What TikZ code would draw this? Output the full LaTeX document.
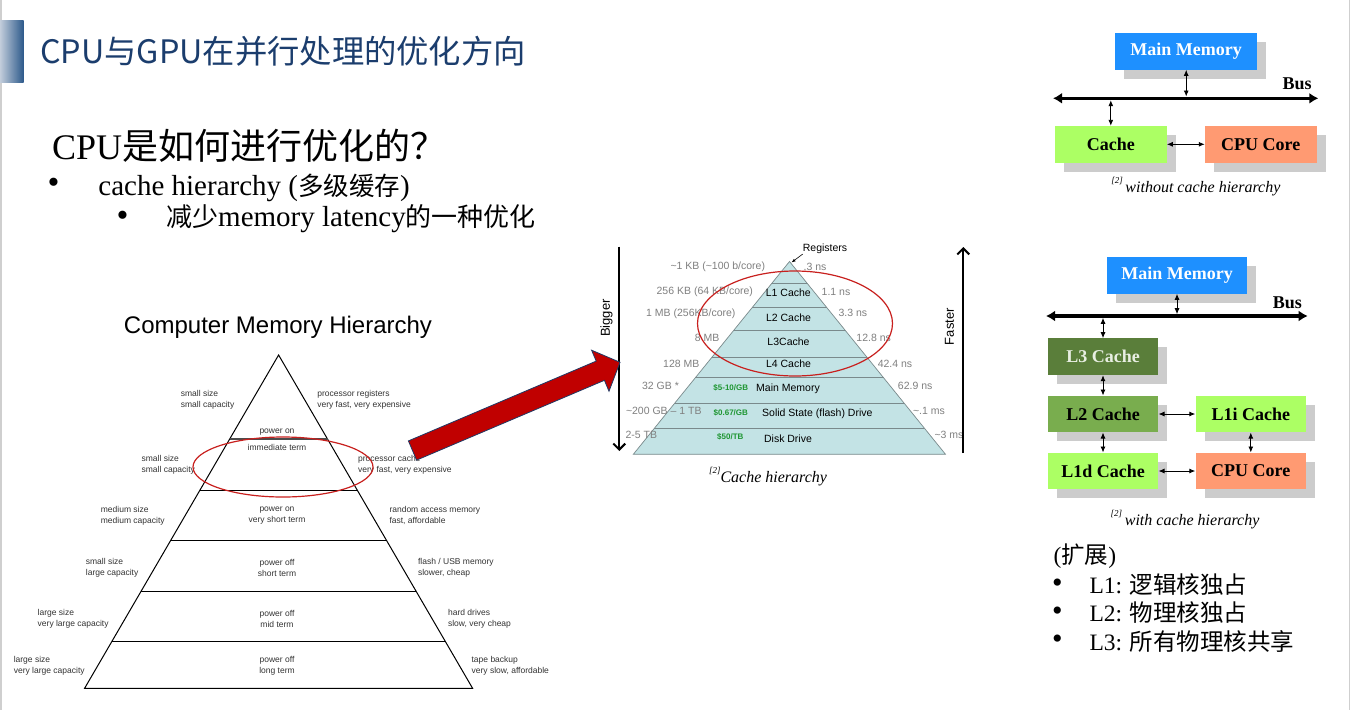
\documentclass[tikz,border=0pt]{standalone}
\usepackage{fontspec}
\setmainfont{Liberation Serif}
\setsansfont{Liberation Sans}
\newfontfamily\cjk{Noto Sans CJK SC}
\usetikzlibrary{arrows.meta,shadows,calc}
\definecolor{titleblue}{HTML}{1B3D6D}
\definecolor{barlight}{HTML}{C2CDDB}
\definecolor{bardark}{HTML}{2D5A8B}
\definecolor{mmblue}{HTML}{1E90FF}
\definecolor{lgreen}{HTML}{ACFF64}
\definecolor{salmon}{HTML}{FF9A72}
\definecolor{dgreen}{HTML}{5A7E3A}
\definecolor{mgreen}{HTML}{79AD4E}
\definecolor{shadowgray}{HTML}{CCCCCC}
\definecolor{pyrfill}{HTML}{C3E3E5}
\definecolor{pyrline}{HTML}{7A8A8C}
\definecolor{pricegreen}{HTML}{1E9632}
\definecolor{ellred}{HTML}{C8201E}
\definecolor{arrred}{HTML}{C00000}
\definecolor{arrblue}{HTML}{1F3864}
\definecolor{edgegray}{HTML}{CFCFCF}
\definecolor{greytext}{HTML}{808080}
\definecolor{lpyrtext}{HTML}{333333}
\definecolor{l3text}{HTML}{E8EEE2}
\begin{document}
\begin{tikzpicture}[x=1pt,y=-1pt,
  lbl/.style={font=\sffamily\fontsize{8.5}{11}\selectfont, text=lpyrtext, inner sep=0pt},
  lblL/.style={lbl, anchor=west, align=left},
  lblC/.style={lbl, align=center},
  cl/.style={font=\sffamily\fontsize{10.5}{12}\selectfont, inner sep=0pt},
  gl/.style={cl, text=greytext},
  price/.style={font=\sffamily\bfseries\fontsize{8}{9}\selectfont, text=pricegreen, inner sep=0pt},
  box/.style={rectangle, inner sep=0pt, minimum height=36.6pt, font=\bfseries\fontsize{18}{18}\selectfont,
    general shadow={fill=shadowgray, shadow xshift=9pt, shadow yshift=-9pt}},
  dbl/.style={{Latex[length=6pt,width=5pt]}-{Latex[length=6pt,width=5pt]}, line width=0.9pt},
  bus/.style={{Latex[length=9pt,width=11pt]}-{Latex[length=9pt,width=11pt]}, line width=3.5pt},
  capt/.style={font=\itshape\fontsize{16}{16}\selectfont, inner sep=0pt},
  big/.style={line width=2pt},
  ell/.style={draw=ellred, line width=1.2pt},
  pline/.style={draw=pyrline, line width=0.7pt},
  bullet/.style={inner sep=0pt, font=\fontsize{34}{34}\selectfont}
]
\useasboundingbox (0,0) rectangle (1354,710);
\fill[white] (0,0) rectangle (1354,710);
\draw[edgegray, line width=2pt] (1,0) -- (1,710);
\draw[edgegray, line width=1.5pt] (1349.5,0) -- (1349.5,710);

% title
\shade[left color=barlight, right color=bardark] (0,20) rectangle (23.5,82.7);
\node[anchor=west, inner sep=0pt, font=\cjk\fontsize{32.3}{32}\selectfont, text=titleblue] (title) at (40,51.7) {CPU与GPU在并行处理的优化方向};

% question text
\node[anchor=base west, inner sep=0pt] (q) at (51.8,159.3) {\fontsize{36}{36}\selectfont CPU{\cjk 是如何进行优化的？}};
\node[bullet] (dot1) at (53.6,185.7) {•};
\node[anchor=base west, inner sep=0pt] (b1) at (98.2,195) {\fontsize{29}{29}\selectfont cache hierarchy ({\cjk\fontsize{25.5}{29}\selectfont 多级缓存})};
\node[bullet] (dot2) at (122.5,219) {•};
\node[anchor=base west, inner sep=0pt] (b2) at (166,226.7) {{\cjk\fontsize{26}{29}\selectfont 减少}\fontsize{29}{29}\selectfont memory latency{\cjk\fontsize{26}{29}\selectfont 的一种优化}};

% left pyramid
\node[font=\sffamily\fontsize{24}{24}\selectfont, inner sep=0pt] (cmh) at (278,327) {Computer Memory Hierarchy};
\coordinate (la) at (278.6,355);
\coordinate (lpl) at (84.6,688.3);
\coordinate (lpr) at (472.6,688.3);
\draw[line width=1pt, line join=miter] (la) -- (lpl) -- (lpr) -- cycle;
\draw[line width=1.8pt, black!70] ($(la)!0.253!(lpl)$) -- ($(la)!0.253!(lpr)$);
\foreach \f in {0.407,0.558,0.7096,0.861}
  \draw[line width=1pt] ($(la)!\f!(lpl)$) -- ($(la)!\f!(lpr)$);

\node[lblL] (l1) at (180.7,400.2) {small size\\small capacity};
\node[lblL] (r1) at (317.1,400.2) {processor registers\\very fast, very expensive};
\node[lbl] (c1a) at (277,431.7) {power on};
\node[lbl] (c1b) at (277,447.7) {immediate term};
\node[lblL] (l2) at (141.4,464.3) {small size\\small capacity};
\node[lblL] (r2) at (357.9,464.3) {processor cache\\very fast, very expensive};
\node[lblL] (l3) at (100.7,515.7) {medium size\\medium capacity};
\node[lblC] (c3) at (277,515.7) {power on\\very short term};
\node[lblL] (r3) at (389.3,515.7) {random access memory\\fast, affordable};
\node[lblL] (l4) at (85.7,567.7) {small size\\large capacity};
\node[lblC] (c4) at (277,567.7) {power off\\short term};
\node[lblL] (r4) at (417.9,567.7) {flash / USB memory\\slower, cheap};
\node[lblL] (l5) at (37.5,618.5) {large size\\very large capacity};
\node[lblC] (c5) at (277,618.5) {power off\\mid term};
\node[lblL] (r5) at (447.9,618.5) {hard drives\\slow, very cheap};
\node[lblL] (l6) at (13.6,665.7) {large size\\very large capacity};
\node[lblC] (c6) at (277,665.7) {power off\\long term};
\node[lblL] (r6) at (471.4,665.7) {tape backup\\very slow, affordable};
\draw[ell] (283,467) ellipse [x radius=90pt, y radius=30pt];

% middle pyramid
\coordinate (apex) at (789.5,261.5);
\coordinate (pbl) at (633.3,454.3);
\coordinate (pbr) at (945.5,454.3);
\filldraw[fill=pyrfill, pline] (apex) -- (pbl) -- (pbr) -- cycle;
\foreach \f in {0.113,0.240,0.355,0.497,0.603,0.735,0.865}
  \draw[pline] ($(apex)!\f!(pbl)$) -- ($(apex)!\f!(pbr)$);

\node[cl] (t1) at (788.3,292.3) {L1 Cache};
\node[cl] (t2) at (788.5,317.3) {L2 Cache};
\node[cl] (t3) at (788.5,341.7) {L3Cache};
\node[cl] (t4) at (788.5,364) {L4 Cache};
\node[cl] (t5) at (788,389) {Main Memory};
\node[cl] (t6) at (817.3,414) {Solid State (flash) Drive};
\node[cl] (t7) at (788,439) {Disk Drive};
\node[price] (p1) at (730.8,387.7) {\$5-10/GB};
\node[price] (p2) at (730.8,412.7) {\$0.67/GB};
\node[price] (p3) at (730.3,437.3) {\$50/TB};

\node[gl] (g1) at (717.8,266.7) {\textasciitilde 1 KB (\textasciitilde 100 b/core)};
\node[gl] (g2) at (704.8,292) {256 KB (64 KB/core)};
\node[gl] (g3) at (690.8,313.3) {1 MB (256KB/core)};
\node[gl] (g4) at (707.2,338.3) {8 MB};
\node[gl] (g5) at (681.3,364) {128 MB};
\node[gl] (g6) at (660.5,385.7) {32 GB *};
\node[gl] (g7) at (663.8,410.7) {\textasciitilde 200 GB – 1 TB};
\node[gl] (g8) at (641.3,435) {2-5 TB};
\node[gl] (s1) at (815,266.7) {.3 ns};
\node[gl] (s2) at (836,292) {1.1 ns};
\node[gl] (s3) at (852.8,313) {3.3 ns};
\node[gl] (s4) at (873.7,338.3) {12.8 ns};
\node[gl] (s5) at (895,364) {42.4 ns};
\node[gl] (s6) at (915.2,385.7) {62.9 ns};
\node[gl] (s7) at (929,410.7) {\textasciitilde.1 ms};
\node[gl] (s8) at (949,435) {\textasciitilde 3 ms};

\node[cl] (reg) at (825,249) {Registers};
\coordinate (regtip) at (791.5,262.5);
\draw[-{Latex[length=4pt,width=3pt]}, line width=0.6pt] (reg.south west) -- (regtip);

\coordinate (bigT) at (619.3,246.7);
\coordinate (bigB) at (619.3,451);
\draw[big, -{Straight Barb[length=6pt,width=12pt]}] (bigT) -- (bigB);
\node[font=\sffamily\fontsize{13}{13}\selectfont, rotate=90, inner sep=0pt] (bigger) at (606.5,318) {Bigger};
\coordinate (fasB) at (963.3,453);
\coordinate (fasT) at (963.3,247);
\draw[big, -{Straight Barb[length=6pt,width=12pt]}] (fasB) -- (fasT);
\node[font=\sffamily\fontsize{13}{13}\selectfont, rotate=90, inner sep=0pt] (faster) at (949.5,326.7) {Faster};

\draw[ell] (795,323.5) ellipse [x radius=97.5pt, y radius=52.5pt];
\node[capt] (cap1) at (768,476.7) {\raisebox{0.55em}{\fontsize{9}{9}\selectfont [2]}Cache hierarchy};

% red block arrow
\filldraw[fill=arrred, draw=arrblue, line width=0.8pt, line join=miter]
  (408.4,440.9) -- (596.2,361.1) -- (591.6,350.2) -- (620,362.3) -- (609.0,391.2) -- (604.4,380.3) -- (416.6,460.1) -- cycle;

% right top diagram
\node[box, fill=mmblue, text=white, minimum width=142pt] (mm1) at (1186.2,51.3) {Main Memory};
\node[box, fill=lgreen, minimum width=111.7pt] (cache1) at (1110.8,144.3) {Cache};
\node[box, fill=salmon, minimum width=111.7pt] (cpu1) at (1260.8,144.3) {CPU Core};
\coordinate (b1l) at (1053,98.3);
\coordinate (b1r) at (1318.3,98.3);
\draw[bus] (b1l) -- (b1r);
\node[font=\bfseries\fontsize{18}{18}\selectfont, inner sep=0pt] (bus1) at (1297,84) {Bus};
\coordinate (b1m) at (1186.2,96.5);
\coordinate (b1c) at (1110.8,100.2);
\draw[dbl] (mm1) -- (b1m);
\draw[dbl] (b1c) -- (cache1);
\draw[dbl] (cache1) -- (cpu1);
\node[capt] (cap2) at (1195.8,186.7) {\raisebox{0.55em}{\fontsize{9}{9}\selectfont [2]}\,without cache hierarchy};

% right bottom diagram
\node[box, fill=mmblue, text=white, minimum width=140.6pt] (mm2) at (1177,275.3) {Main Memory};
\coordinate (b2l) at (1046,316);
\coordinate (b2r) at (1307.7,316);
\draw[bus] (b2l) -- (b2r);
\node[font=\bfseries\fontsize{18}{18}\selectfont, inner sep=0pt] (bus2) at (1287.3,302.3) {Bus};
\node[box, fill=dgreen, text=l3text, minimum width=110.6pt] (l3c) at (1103,356.7) {L3 Cache};
\node[box, fill=mgreen, minimum width=110.6pt] (l2c) at (1103,414) {L2 Cache};
\node[box, fill=lgreen, minimum width=110.6pt] (l1i) at (1250.8,414) {L1i Cache};
\node[box, fill=lgreen, minimum width=110.6pt] (l1d) at (1103,471) {L1d Cache};
\node[box, fill=salmon, minimum width=110.6pt] (cpu2) at (1250.8,471) {CPU Core};
\coordinate (b2m) at (1177,314.2);
\coordinate (b2c) at (1103,317.8);
\draw[dbl] (mm2) -- (b2m);
\draw[dbl] (b2c) -- (l3c);
\draw[dbl] (l3c) -- (l2c);
\draw[dbl] (l2c) -- (l1d);
\draw[dbl] (l2c) -- (l1i);
\draw[dbl] (l1i) -- (cpu2);
\draw[dbl] (l1d) -- (cpu2);
\node[capt] (cap3) at (1185,519.3) {\raisebox{0.55em}{\fontsize{9}{9}\selectfont [2]}\,with cache hierarchy};

% notes
\node[anchor=west, inner sep=0pt] (ext) at (1053.3,555.7) {\fontsize{23.5}{24}\selectfont ({\cjk 扩展})};
\node[bullet, font=\fontsize{30}{30}\selectfont] (d1) at (1057.3,585.7) {•};
\node[bullet, font=\fontsize{30}{30}\selectfont] (d2) at (1057.3,614) {•};
\node[bullet, font=\fontsize{30}{30}\selectfont] (d3) at (1057.3,641.7) {•};
\node[anchor=west, inner sep=0pt] (n1) at (1089.3,585) {\fontsize{23.5}{24}\selectfont L1: {\cjk 逻辑核独占}};
\node[anchor=west, inner sep=0pt] (n2) at (1089.3,613) {\fontsize{23.5}{24}\selectfont L2: {\cjk 物理核独占}};
\node[anchor=west, inner sep=0pt] (n3) at (1089.3,641) {\fontsize{23.5}{24}\selectfont L3: {\cjk 所有物理核共享}};
\end{tikzpicture}
\end{document}
